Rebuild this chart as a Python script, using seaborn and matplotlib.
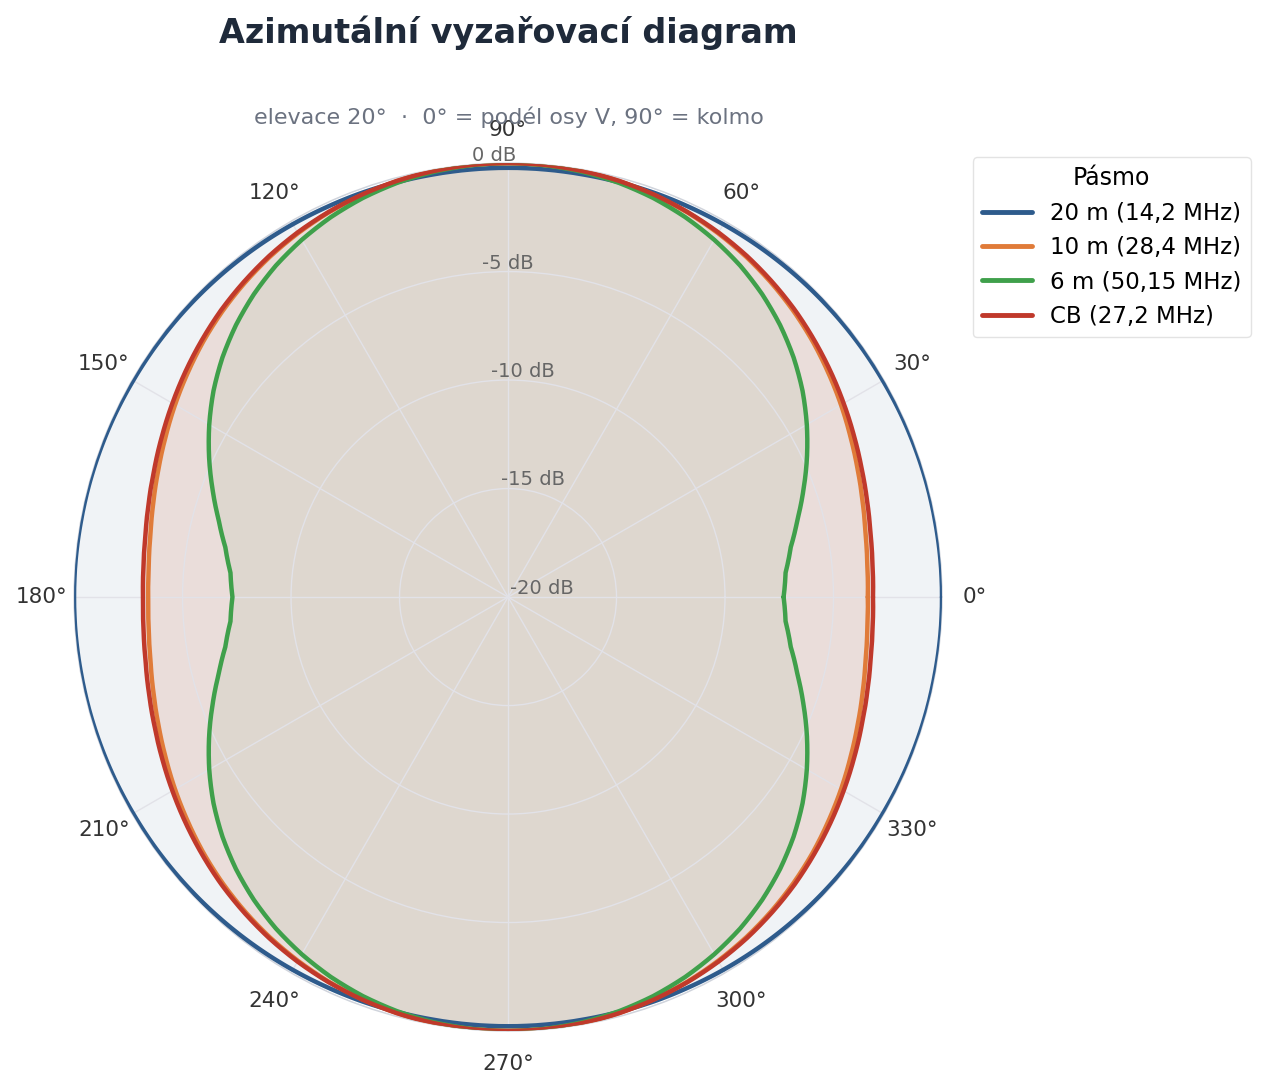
import numpy as np
import pandas as pd
import matplotlib
matplotlib.use("Agg")
import matplotlib.pyplot as plt
from matplotlib.lines import Line2D
import seaborn as sns

# Pattern values (dB) for one quadrant, 0..90 deg step 5.
# The pattern is symmetric about both axes.
angles_q = list(range(0, 95, 5))
gain_20m = [0.0, 0.0, -0.01, -0.01, -0.02, -0.03, -0.05, -0.06, -0.08, -0.10,
            -0.12, -0.14, -0.16, -0.18, -0.19, -0.21, -0.22, -0.22, -0.22]
gain_10m = [-3.42, -3.38, -3.27, -3.08, -2.85, -2.58, -2.28, -1.98, -1.67, -1.38,
            -1.11, -0.86, -0.64, -0.44, -0.29, -0.16, -0.07, -0.02, 0.0]
gain_6m = [-7.30, -7.16, -6.77, -6.19, -5.51, -4.80, -4.10, -3.43, -2.82, -2.27,
           -1.78, -1.35, -0.99, -0.68, -0.43, -0.24, -0.11, -0.03, 0.0]
gain_cb = [-3.18, -3.14, -3.04, -2.87, -2.66, -2.41, -2.14, -1.86, -1.58, -1.30,
           -1.05, -0.81, -0.60, -0.42, -0.27, -0.15, -0.07, -0.01, 0.0]

bands = ["20 m (14,2 MHz)", "10 m (28,4 MHz)", "6 m (50,15 MHz)", "CB (27,2 MHz)"]
colors = ["#2e5b8c", "#e07b39", "#3fa04b", "#c0392b"]
r_ticks = [-20, -15, -10, -5, 0]
theta_ticks = list(range(0, 360, 30))


def full_circle(q):
    out = []
    for a in range(0, 365, 5):
        f = a % 180
        if f > 90:
            f = 180 - f
        out.append(q[f // 5])
    return out


rows = []
for band, q in zip(bands, [gain_20m, gain_10m, gain_6m, gain_cb]):
    for a, g in zip(range(0, 365, 5), full_circle(q)):
        rows.append({"theta": np.deg2rad(a), "gain": g, "band": band})
df = pd.DataFrame(rows)

sns.set_style("white")
plt.rcParams["font.family"] = ["DejaVu Sans"]

fig = plt.figure(figsize=(12.68, 10.9), dpi=100)
ax = fig.add_axes([0.0584, 0.0541, 0.6845, 0.7963], projection="polar")

# light fills under each curve
for band, c in zip(bands, colors):
    sub = df[df["band"] == band]
    polys = ax.fill(sub["theta"], sub["gain"], color=c, alpha=0.07, lw=0, zorder=1)
    for p in polys:
        p.get_path()._interpolation_steps = 16

sns.lineplot(data=df, x="theta", y="gain", hue="band", hue_order=bands,
             palette=colors, linewidth=3.2, sort=False, estimator=None,
             legend=False, ax=ax, zorder=3)
for ln in ax.get_lines():
    ln.get_path()._interpolation_steps = 16
    ln.set_solid_joinstyle("round")

ax.set_rlim(-20, 0)
ax.set_yticks(r_ticks)
ax.set_yticklabels([])
ax.set_xticks(np.deg2rad(theta_ticks))
ax.set_xticklabels([f"{t}°" for t in theta_ticks], fontsize=15.5, color="#333333")
ax.tick_params(axis="x", pad=13)
ax.set_xlabel("")
ax.set_ylabel("")
ax.grid(True, color="#e2e2e8", lw=1)
ax.set_axisbelow("line")
ax.spines["polar"].set_color("#d0d4dc")
ax.spines["polar"].set_linewidth(1)

for v in r_ticks:
    ax.annotate(f"{v} dB", xy=(np.deg2rad(95), v), xytext=(2, 9),
                textcoords="offset pixels", ha="left", va="center",
                fontsize=14, color="#666666", zorder=5)

fig.text(0.4006, 0.9697, "Azimutální vyzařovací diagram", ha="center", va="center",
         fontsize=24, fontweight="bold", color="#1f2a3a")
fig.text(0.401, 0.8927, "elevace 20°  ·  0° = podél osy V, 90° = kolmo",
         ha="center", va="center", fontsize=16, color="#6b7280")

handles = [Line2D([], [], color=c, lw=3.5) for c in colors]
leg = fig.legend(handles, bands, title="Pásmo", loc="upper left",
                 bbox_to_anchor=(0.767, 0.856), fontsize=16.5, title_fontsize=17,
                 frameon=True, handlelength=2.2, labelspacing=0.5, borderaxespad=0,
                 labelcolor="black")
leg.get_title().set_color("black")
leg.get_frame().set_edgecolor("#dddddd")

fig.savefig("out.png", dpi=100, facecolor="white")
